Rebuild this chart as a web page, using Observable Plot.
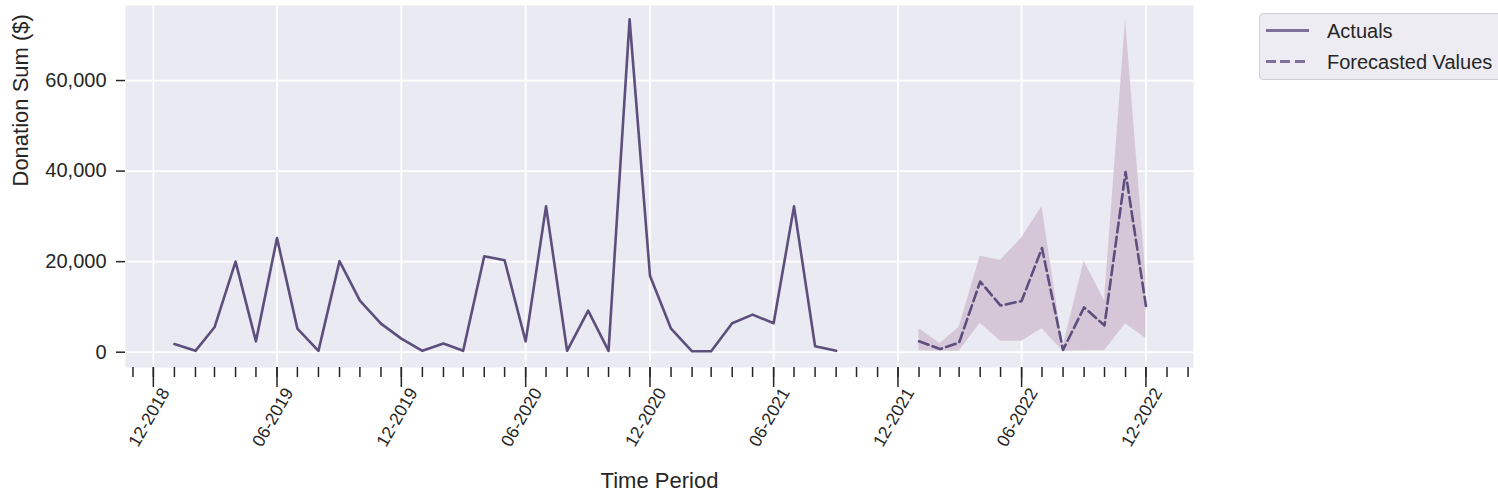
<!DOCTYPE html>
<html><head><meta charset="utf-8">
<script src="https://cdn.jsdelivr.net/npm/d3@7"></script>
<script src="https://cdn.jsdelivr.net/npm/@observablehq/plot@0.6"></script>
<style>
body{margin:0;background:#fff;font-family:"Liberation Sans",Arial,sans-serif;}
#wrap{position:relative;width:1498px;height:501px;overflow:hidden;}
#legend{position:absolute;left:1259px;top:13px;width:280px;height:67px;background:#ececf2;border:1px solid #cfcfd4;border-radius:4px;box-sizing:border-box;color:#262626;font-size:20px;}
.row{position:absolute;left:0;height:30px;width:100%;}
.swatch{position:absolute;left:6px;width:43px;height:3px;}
.lab{position:absolute;left:67px;line-height:20px;white-space:nowrap;}
</style></head><body><div id="wrap"></div>
<script>
const actualMonths = ["2019-01","2019-02","2019-03","2019-04","2019-05","2019-06","2019-07","2019-08","2019-09","2019-10","2019-11","2019-12",
  "2020-01","2020-02","2020-03","2020-04","2020-05","2020-06","2020-07","2020-08","2020-09","2020-10","2020-11","2020-12",
  "2021-01","2021-02","2021-03","2021-04","2021-05","2021-06","2021-07","2021-08","2021-09"];
const actualValues = [1800,300,5500,20000,2400,25200,5200,300,20100,11400,6300,3000,
  300,1900,300,21200,20300,2400,32200,300,9200,300,73500,16900,
  5200,200,200,6400,8300,6400,32200,1300,300];
const forecastMonths = ["2022-01","2022-02","2022-03","2022-04","2022-05","2022-06","2022-07","2022-08","2022-09","2022-10","2022-11","2022-12"];
const forecastValues = [2400,700,2100,15600,10300,11300,23000,500,9900,5900,39800,10200];
const forecastLower = [300,200,200,6400,2400,2400,5200,200,300,300,6300,3000];
const forecastUpper = [5200,1900,5500,21200,20300,25200,32200,1300,20100,11400,73500,16900];
const majorTickMonths = ["2018-12","2019-06","2019-12","2020-06","2020-12","2021-06","2021-12","2022-06","2022-12"];
const yTicks = [0,20000,40000,60000];

const parse = d3.utcParse("%Y-%m");
const actual = actualMonths.map((m,i)=>({date:parse(m), value:actualValues[i]}));
const forecast = forecastMonths.map((m,i)=>({date:parse(m), value:forecastValues[i], lo:forecastLower[i], hi:forecastUpper[i]}));
const majorDates = majorTickMonths.map(parse);
const minorDates = d3.utcMonth.range(new Date(Date.UTC(2018,10,1)), new Date(Date.UTC(2023,1,2)));

const lineColor = "#5c4f7d";
const ink = "#262626";

const chart = Plot.plot({
  width:1498, height:501,
  marginLeft:125, marginRight:305, marginTop:5, marginBottom:134,
  style:{fontFamily:"Liberation Sans, Arial, sans-serif", background:"transparent", color:ink},
  x:{type:"utc", domain:[new Date(Date.UTC(2018,9,21)), new Date(Date.UTC(2023,1,9))]},
  y:{domain:[-3380,76570]},
  marks:[
    Plot.frame({fill:"#eaeaf2", stroke:null}),
    Plot.gridX(majorDates, {stroke:"#fff", strokeOpacity:1, strokeWidth:1.8}),
    Plot.gridY(yTicks, {stroke:"#fff", strokeOpacity:1, strokeWidth:1.8}),
    Plot.areaY(forecast, {x:"date", y1:"lo", y2:"hi", fill:"#d5c7d8", fillOpacity:1}),
    Plot.lineY(actual, {x:"date", y:"value", stroke:lineColor, strokeWidth:2.6}),
    Plot.lineY(forecast, {x:"date", y:"value", stroke:lineColor, strokeWidth:2.6, strokeDasharray:"10,4.4"}),
    Plot.axisY(yTicks, {tickSize:9, tickPadding:10, tickFormat:d3.format(","), fontSize:20, label:null, stroke:ink, strokeWidth:1.5, fill:ink}),
    Plot.axisX(minorDates, {tickSize:10, tickFormat:()=>"", label:null, stroke:ink, strokeWidth:1.5}),
    Plot.axisX(majorDates, {tickSize:20, tickFormat:()=>"", label:null, stroke:ink, strokeWidth:1.5}),
    Plot.text(majorDates, {x:d=>d, text:d3.utcFormat("%m-%Y"), frameAnchor:"bottom", dy:22, dx:12, rotate:-60, textAnchor:"end", lineAnchor:"middle", fontSize:17.5, fill:ink}),
    Plot.text(["Time Period"], {frameAnchor:"bottom", dy:120, fontSize:22, fill:ink}),
    Plot.text(["Donation Sum ($)"], {frameAnchor:"left", dx:-105, rotate:-90, fontSize:22, fill:ink})
  ]
});
const wrap = document.getElementById("wrap");
wrap.appendChild(chart);
const legend = document.createElement("div");
legend.id = "legend";
legend.innerHTML = `
  <div class="row" style="top:1px"><div class="swatch" style="top:14px;background:#7d7099"></div><div class="lab" style="top:6px">Actuals</div></div>
  <div class="row" style="top:32px"><div class="swatch" style="top:14px;background:repeating-linear-gradient(to right,#7d7099 0 10px,transparent 10px 14.4px)"></div><div class="lab" style="top:6px">Forecasted Values</div></div>`;
wrap.appendChild(legend);
</script></body></html>
